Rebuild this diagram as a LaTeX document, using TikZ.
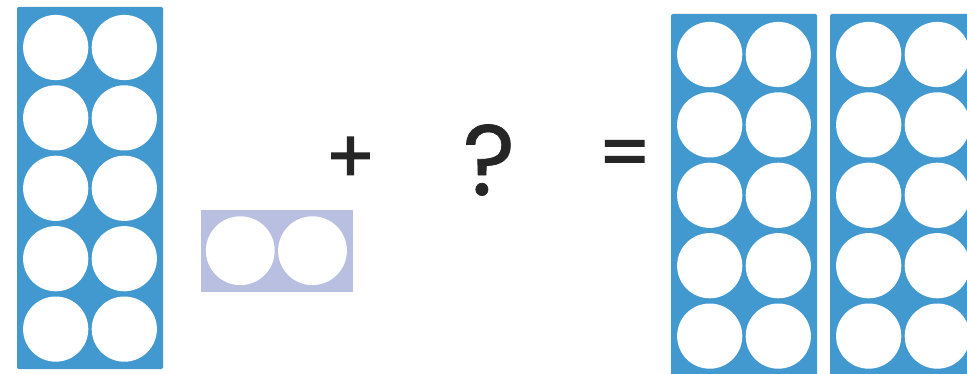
\documentclass[tikz,border=0pt]{standalone}
\usepackage{fontspec}
\setmainfont{Poppins}
\newfontfamily\symbolfont[FakeBold=1.6]{Poppins}
\newfontfamily\questfont[FakeBold=0.7]{Poppins}
\definecolor{frameblue}{RGB}{66,153,208}
\definecolor{lavender}{RGB}{184,191,224}
\definecolor{symbolink}{RGB}{38,38,38}
\tikzset{
  tenframe/.style={fill=frameblue, rounded corners=1.5pt},
  counter/.style={fill=white},
  symbol/.style={text=symbolink, inner sep=0pt, anchor=center},
}
\newcommand{\tenframeat}[2]{%
  \fill[tenframe] (#1,#2) rectangle ++(146,362);
  \foreach \r in {0,...,4}{
    \foreach \c in {0,1}{
      \fill[counter] ({#1+38.7+\c*68.6},{#2+40.5+\r*70.4}) circle (32.6);
    }
  }%
}
\begin{document}
\begin{tikzpicture}[x=1pt,y=-1pt]
  \useasboundingbox (0,0) rectangle (967,374);
  \clip (0,0) rectangle (967,374);
  \fill[white] (0,0) rectangle (967,374);
  % left ten frame
  \tenframeat{17}{7}
  % small two frame
  \fill[lavender] (201,210) rectangle (353,291.7);
  \fill[counter] (240.3,250.7) circle (34.4);
  \fill[counter] (312.5,250.7) circle (34.4);
  % right ten frames
  \tenframeat{671}{14}
  \tenframeat{830}{14}
  % symbols
  \node[symbol, font=\symbolfont\fontsize{74}{74}\selectfont] (plus) at (350.5,160) {+};
  \node[symbol, font=\questfont\fontsize{100}{100}\selectfont] (quest) at (489,160) {?};
  \node[symbol, font=\symbolfont\fontsize{74}{74}\selectfont] (equals) at (624.7,159.5) {=};
\end{tikzpicture}
\end{document}
